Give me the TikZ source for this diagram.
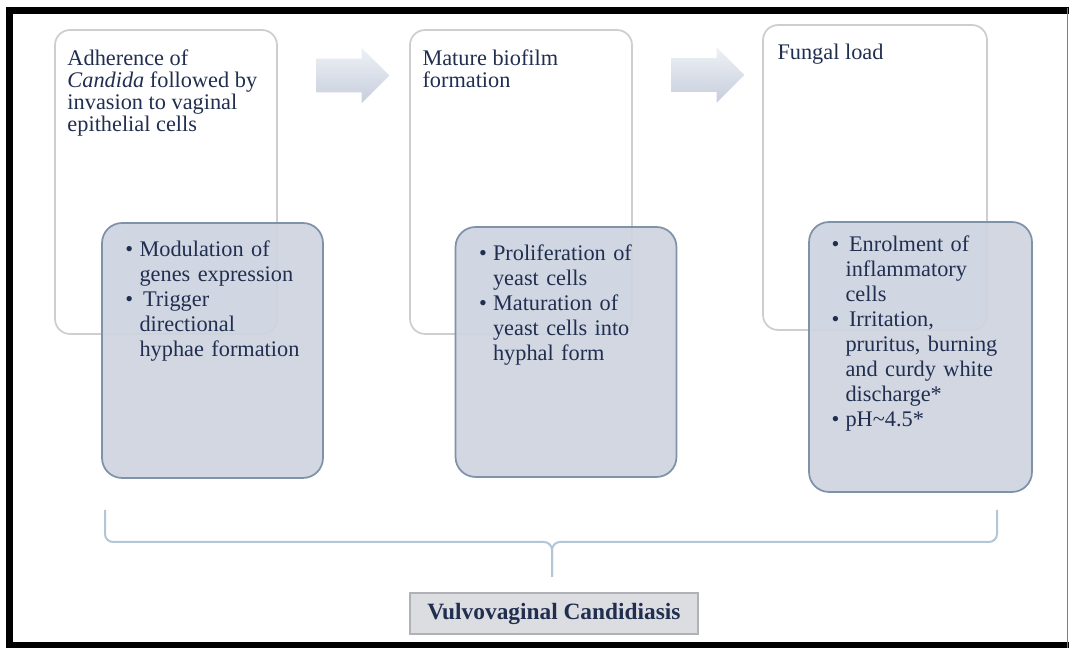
\documentclass[tikz,border=0pt]{standalone}
\usepackage{fontspec}
\setmainfont{Liberation Serif}
\usepackage{xcolor}
\usetikzlibrary{calc, positioning, shapes.arrows}

\definecolor{txtblue}{RGB}{32,46,80}
\definecolor{panelgray}{RGB}{206,212,224}
\definecolor{panelline}{RGB}{128,146,170}
\definecolor{stageline}{RGB}{206,206,208}
\definecolor{bracecol}{RGB}{178,198,214}
\definecolor{arrowtop}{RGB}{238,241,246}
\definecolor{arrowbot}{RGB}{198,206,220}
\definecolor{labelfill}{RGB}{220,221,225}
\definecolor{labelline}{RGB}{176,178,184}

% bullet line with hanging indent
\newcommand{\bul}{\par\noindent\hangindent=8pt\hangafter=1\makebox[8pt][l]{\textbullet}}

\begin{document}
\begin{tikzpicture}[x=0.02cm, y=0.02cm,
	stage/.style={draw=stageline, line width=0.035cm, rounded corners=0.3cm, fill=white, minimum width=4.44cm, minimum height=6.08cm, inner sep=0},
	panel/.style={draw=panelline, line width=0.035cm, rounded corners=0.4cm, fill=panelgray, fill opacity=0.92, minimum width=4.42cm, inner sep=0},
	stagetext/.style={anchor=north west, inner sep=0, text=txtblue, align=left, font=\fontsize{12.7}{12.6}\selectfont},
	paneltext/.style={anchor=north west, inner sep=0, text=txtblue, text width=4cm, font=\fontsize{12.7}{14.2}\selectfont},
	flowarrow/.style={single arrow, draw=none, top color=arrowtop, bottom color=arrowbot, inner xsep=0, inner ysep=0.33cm, minimum height=1.46cm, single arrow head extend=0.22cm},
	brace/.style={draw=bracecol, line width=0.04cm}]
	\useasboundingbox (0,0) rectangle (1069,648);

	% stages
	\node[stage] (S1) at (166,466) {};
	\node[stage] (S2) at (521,466) {};
	\node[stage, minimum width=4.48cm, minimum height=6.1cm] (S3) at (875,470.5) {};

	\node[stagetext] (T1) at ([shift={(13,-20)}]S1.north west) {Adherence of\\\textit{Candida} followed by\\invasion to vaginal\\epithelial cells};
	\node[stagetext] (T2) at ([shift={(13,-20)}]S2.north west) {Mature biofilm\\formation};
	\node[stagetext] (T3) at ([shift={(15,-20)}]S3.north west) {Fungal load};

	\node[flowarrow] (A1) at (344.5,572.5) {};
	\node[flowarrow] (A2) at (699.5,573) {};

	% detail panels
	\node[panel, minimum height=5.1cm] (P1) at (212.5,297.5) {};
	\node[panel, minimum height=5.0cm] (P2) at (566,296) {};
	\node[panel, minimum width=4.46cm, minimum height=5.4cm] (P3) at (920.5,291) {};

	\node[paneltext] (L1) at ([shift={(24,-9)}]P1.north west) {\bul Modulation of\newline genes expression\bul\hspace{2pt}Trigger\newline directional\newline hyphae formation\par};
	\node[paneltext] (L2) at ([shift={(24,-9)}]P2.north west) {\bul Proliferation of\newline yeast cells\bul Maturation of\newline yeast cells into\newline hyphal form\par};
	\node[paneltext] (L3) at ([shift={(23,-5)}]P3.north west) {\bul\hspace{2pt}Enrolment of\newline inflammatory\newline cells\bul\hspace{2pt}Irritation,\newline pruritus, burning\newline and curdy white\newline discharge*\bul pH\textasciitilde4.5*\par};

	% brace and result
	\coordinate (bL) at (105,138);
	\coordinate (bR) at (997,138);
	\coordinate (bTip) at (552,71);
	\draw[brace, rounded corners=0.16cm] (bL) |- (bTip |- 0,106) -- (bTip);
	\draw[brace, rounded corners=0.16cm] (bR) |- (bTip |- 0,106) -- (bTip);

	\node[draw=labelline, fill=labelfill, line width=0.03cm, minimum width=5.76cm, minimum height=0.82cm, text=txtblue, font=\fontsize{13.3}{14}\selectfont\bfseries] (VVC) at (554,34.5) {Vulvovaginal Candidiasis};

	% frame
	\draw[line width=0.14cm] (1069,637.5) -- (9.5,637.5) -- (9.5,2) -- (1069,2);
	\draw[gray, line width=0.03cm] (1067.5,640) -- (1067.5,0);
\end{tikzpicture}
\end{document}
